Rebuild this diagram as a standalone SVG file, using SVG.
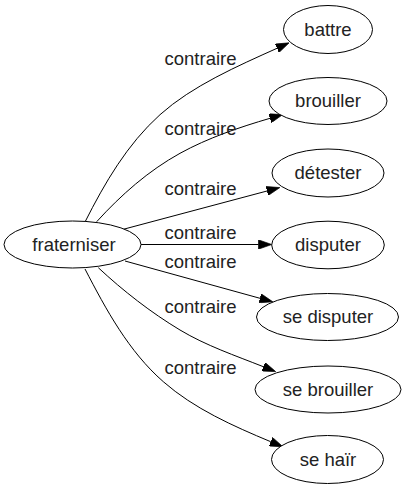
<svg xmlns="http://www.w3.org/2000/svg" width="406" height="491" viewBox="0 0 406 491">
<style>
.node ellipse{fill:#fff;stroke:#000;stroke-width:1}
.node text{font-family:"Liberation Sans",Arial,sans-serif;font-size:18.5px;fill:#222;text-anchor:middle}
.edge path{fill:none;stroke:#000;stroke-width:1;marker-end:url(#arr)}
.edge text{font-family:"Liberation Sans",Arial,sans-serif;font-size:18.5px;fill:#222;text-anchor:middle}
</style>
<defs>
<marker id="arr" viewBox="0 0 10 7" markerUnits="userSpaceOnUse" markerWidth="13.3" markerHeight="9.3" refX="0" refY="3.5" orient="auto">
<path d="M0,0 L10,3.5 L0,7 Z" fill="#000" stroke="#000" stroke-width="0.5"/>
</marker>
</defs>
<rect width="406" height="491" fill="#fff"/>
<g id="edges" class="edge">
<path d="M85,222 C104.8,182.8 127.3,144.1 160,114.7 C192,85.9 237.9,65.9 277,48.3"/>
<text x="200.5" y="64.5">contraire</text>
<path d="M96.7,221.7 C120.8,195.1 148.5,170.7 180,153.3 C208,137.9 239.3,127.3 270,118.3"/>
<text x="200.5" y="134.5">contraire</text>
<path d="M123.3,229.3 L267,191"/>
<text x="200.5" y="194.5">contraire</text>
<path d="M141,244.5 L258.5,244.5"/>
<text x="200.5" y="239">contraire</text>
<path d="M125,261 L260,298.3"/>
<text x="200.5" y="267.5">contraire</text>
<path d="M98.3,267.7 C123.1,290.8 150.9,312.5 180,330 C205.7,345.5 235.4,355.6 263.3,366.7"/>
<text x="200.5" y="313">contraire</text>
<path d="M85,269 C106.2,309.9 128.7,351.4 163.3,381.7 C194.1,408.7 232.9,425.9 270.7,441.7"/>
<text x="200.5" y="374">contraire</text>
</g>
<g id="fraterniser" class="node"><ellipse cx="72.5" cy="244.5" rx="68.5" ry="23.5"/><text x="74" y="250.5">fraterniser</text></g>
<g id="battre" class="node"><ellipse cx="328" cy="29.5" rx="44.5" ry="24"/><text x="328" y="35.5">battre</text></g>
<g id="brouiller" class="node"><ellipse cx="328" cy="101" rx="59" ry="23.5"/><text x="328" y="107">brouiller</text></g>
<g id="detester" class="node"><ellipse cx="328" cy="173" rx="56" ry="24"/><text x="328" y="179">détester</text></g>
<g id="disputer" class="node"><ellipse cx="328" cy="245" rx="56.3" ry="23.8"/><text x="328" y="251">disputer</text></g>
<g id="se_disputer" class="node"><ellipse cx="327.5" cy="317" rx="71" ry="23.5"/><text x="328" y="323">se disputer</text></g>
<g id="se_brouiller" class="node"><ellipse cx="328" cy="389.5" rx="73" ry="23.5"/><text x="328" y="395.5">se brouiller</text></g>
<g id="se_hair" class="node"><ellipse cx="327.5" cy="459.5" rx="56" ry="24"/><text x="328" y="465.5">se haïr</text></g>
</svg>
